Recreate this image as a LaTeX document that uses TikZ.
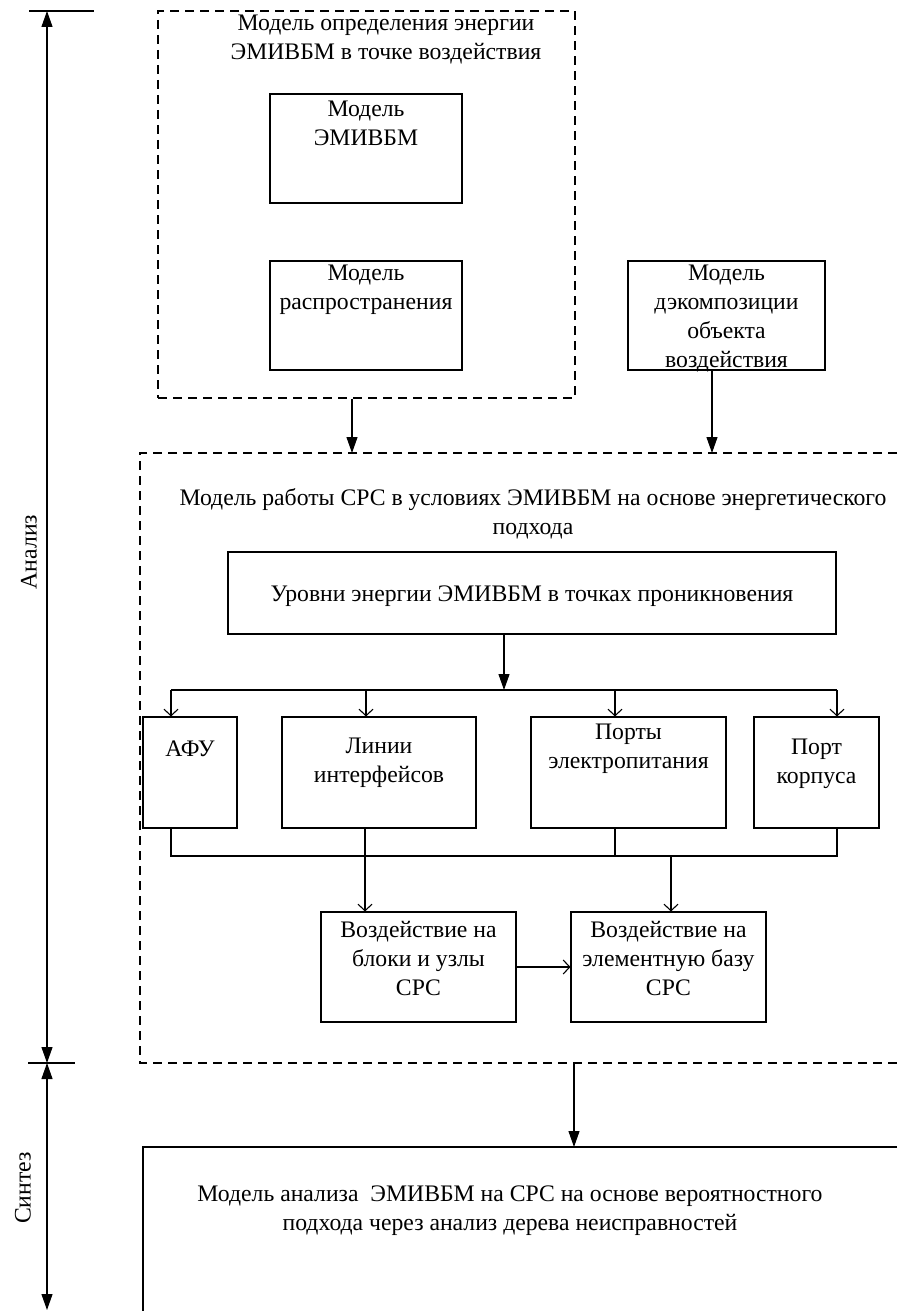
\documentclass[tikz,border=0pt]{standalone}
\usepackage{fontspec}
\setmainfont{Liberation Serif}
\usetikzlibrary{arrows.meta}
\begin{document}
\begin{tikzpicture}[x=1pt,y=-1pt,
  line width=1.1pt,
  txt/.style={font=\fontsize{23.7}{29}\selectfont, align=center, inner sep=0pt},
  rbox/.style={draw, line width=1.1pt, inner sep=0pt},
  dbox/.style={draw, line width=1.1pt, inner sep=0pt, dash pattern=on 9pt off 6pt},
  dline/.style={line width=1.1pt, dash pattern=on 9pt off 6pt},
  farr/.style={-{Triangle[length=16pt,width=11pt]}},
  barr/.style={{Triangle[length=16pt,width=11pt]}-{Triangle[length=16pt,width=11pt]}},
  oarr/.style={-{Straight Barb[length=6.5pt,width=14pt]}}]
\useasboundingbox (0,0) rectangle (897,1311);
\path[fill=white] (0,0) rectangle (897,1311);

% ---------- axis ----------
\coordinate (t0) at (47,11);
\coordinate (t1) at (47,1063);
\coordinate (t2) at (47,1310);
\coordinate (k0a) at (29,11);
\coordinate (k0b) at (94,11);
\coordinate (k1a) at (28,1063);
\coordinate (k1b) at (75,1063);
\draw (k0a) -- (k0b);
\draw (k1a) -- (k1b);
\draw[barr] (t0) -- (t1);
\draw[barr] (t1) -- (t2);
\node[txt, rotate=90] (lan) at (29,552) {Анализ};
\node[txt, rotate=90] (lsy) at (23,1188) {Синтез};

% ---------- top dashed frame ----------
\node[dbox, minimum width=417pt, minimum height=387pt] (fr1) at (366.5,204.5) {};
\node[txt] (fr1t) at (386,40) {Модель определения энергии\\ЭМИВБМ в точке воздействия};

\node[rbox, minimum width=192pt, minimum height=109pt] (memi) at (366,148.5) {};
\node[txt] (memit) at (366,123) {Модель\\ЭМИВБМ};
\node[rbox, minimum width=192pt, minimum height=109pt] (mras) at (366,315.5) {};
\node[txt] (mrast) at (366,290) {Модель\\распространения};
\node[rbox, minimum width=197pt, minimum height=109pt] (mdek) at (726.5,315.5) {};
\node[txt] (mdekt) at (726.5,319) {Модель\\дэкомпозиции\\объекта\\воздействия};

% ---------- second dashed frame (open to the right) ----------
\coordinate (f2tr) at (897,453);
\coordinate (f2tl) at (140,453);
\coordinate (f2bl) at (140,1063);
\coordinate (f2br) at (897,1063);
\draw[dline] (f2tr) -- (f2tl) -- (f2bl) -- (f2br);
\coordinate (a1) at (352,453);
\coordinate (a2) at (712,453);
\draw[farr] (fr1.south -| a1) -- (a1);
\draw[farr] (mdek.south -| a2) -- (a2);

\node[txt] (f2t) at (533,514) {Модель работы СРС в условиях ЭМИВБМ на основе энергетического\\подхода};

\node[rbox, minimum width=608pt, minimum height=82pt] (urov) at (532,593) {};
\node[txt] (urovt) at (532,596) {Уровни энергии ЭМИВБМ в точках проникновения};

\coordinate (bA) at (504,690);
\draw[farr] (urov.south -| bA) -- (bA);
\coordinate (b1) at (171,690);
\coordinate (b2) at (366,690);
\coordinate (b3) at (615,690);
\coordinate (b4) at (837,690);
\draw (b1) -- (b4);

\node[rbox, minimum width=94pt, minimum height=111pt] (afu) at (190,772.5) {};
\node[txt] (afut) at (190,749) {АФУ};
\node[rbox, minimum width=194pt, minimum height=111pt] (lin) at (379,772.5) {};
\node[txt] (lint) at (379,763) {Линии\\интерфейсов};
\node[rbox, minimum width=195pt, minimum height=111pt] (port) at (628.5,772.5) {};
\node[txt] (portt) at (628.5,749) {Порты\\электропитания};
\node[rbox, minimum width=125pt, minimum height=111pt] (korp) at (816.5,772.5) {};
\node[txt] (korpt) at (816.5,764) {Порт\\корпуса};

\draw[oarr] (b1) -- (b1 |- afu.north);
\draw[oarr] (b2) -- (b2 |- lin.north);
\draw[oarr] (b3) -- (b3 |- port.north);
\draw[oarr] (b4) -- (b4 |- korp.north);

\coordinate (c1) at (171,856);
\coordinate (c2) at (365,856);
\coordinate (c3) at (615,856);
\coordinate (c4) at (837,856);
\coordinate (c5) at (671,856);
\draw (c1 |- afu.south) -- (c1) -- (c4) -- (c4 |- korp.south);
\draw (c2 |- lin.south) -- (c2);
\draw (c3 |- port.south) -- (c3);

\node[rbox, minimum width=195pt, minimum height=110pt] (vbl) at (418.5,967) {};
\node[txt] (vblt) at (418.5,958) {Воздействие на\\блоки и узлы\\СРС};
\node[rbox, minimum width=195pt, minimum height=110pt] (vel) at (668.5,967) {};
\node[txt] (velt) at (668.5,958) {Воздействие на\\элементную базу\\СРС};

\draw[oarr] (c2) -- (c2 |- vbl.north);
\draw[oarr] (c5) -- (c5 |- vel.north);
\draw[oarr] (vbl.east) -- (vel.west);

% ---------- bottom box (open right / bottom) ----------
\coordinate (g1) at (897,1147);
\coordinate (g2) at (143,1147);
\coordinate (g3) at (143,1311);
\draw (g1) -- (g2) -- (g3);
\coordinate (e1) at (574,1063);
\coordinate (e2) at (574,1147);
\draw[farr] (e1) -- (e2);
\node[txt] (gt) at (510,1211) {Модель анализа~ ЭМИВБМ на СРС на основе вероятностного\\подхода через анализ дерева неисправностей};
\end{tikzpicture}
\end{document}
